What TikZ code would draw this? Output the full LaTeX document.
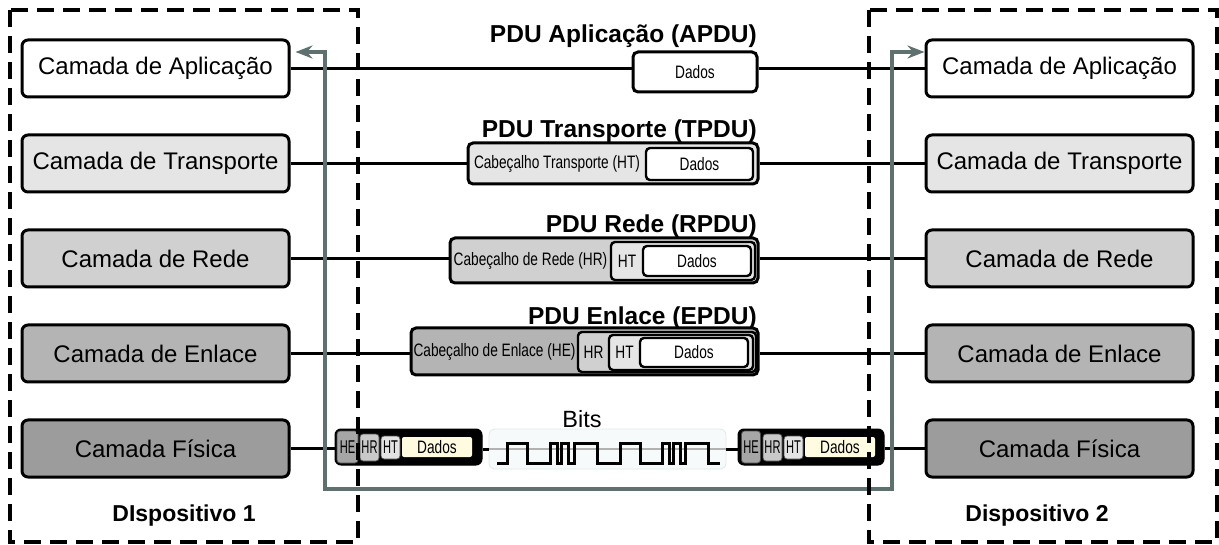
\documentclass[tikz,border=0pt]{standalone}
\usepackage{fontspec}
\setmainfont{Liberation Sans}
\newfontfamily\narrowf[FakeStretch=0.76]{Liberation Sans}
\newfontfamily\condf[FakeStretch=0.6]{Liberation Sans}
\usetikzlibrary{arrows.meta}
\definecolor{gT}{HTML}{E5E5E5}
\definecolor{gR}{HTML}{D0D0D0}
\definecolor{gE}{HTML}{B4B4B4}
\definecolor{gF}{HTML}{9C9C9C}
\definecolor{arr}{HTML}{5E716E}
\definecolor{cream}{HTML}{FFFBE1}
\definecolor{bitsbg}{HTML}{F6FAFA}
\definecolor{bitsbd}{HTML}{E2E8E8}
\begin{document}
\begin{tikzpicture}[x=1pt,y=-1pt,
  layer/.style={draw=black, line width=3pt, rounded corners=6pt, minimum width=267pt, minimum height=57pt, inner sep=0pt, font=\fontsize{24}{28}\selectfont},
  pdubox/.style={draw=black, line width=3pt, rounded corners=5pt, inner sep=0pt},
  inbox/.style={draw=black, line width=2.4pt, rounded corners=4pt, inner sep=0pt},
  small/.style={inner sep=0pt, font=\narrowf\fontsize{18}{20}\selectfont},
  tiny/.style={draw=black!70, line width=0.8pt, rounded corners=3pt, inner sep=0pt, font=\condf\fontsize{18.5}{20}\selectfont},
  pdulbl/.style={anchor=base east, inner sep=0pt, font=\bfseries\fontsize{24.5}{28}\selectfont},
  devlbl/.style={inner sep=0pt, font=\bfseries\fontsize{23}{26}\selectfont},
  rowline/.style={draw=black, line width=3pt},
  garrow/.style={draw=arr, line width=3.2pt, {Stealth[length=17pt,width=13pt]}-{Stealth[length=17pt,width=13pt]}},
  dashbox/.style={draw=black, line width=3.2pt, dash pattern=on 17pt off 9pt}
]
\useasboundingbox (0,0) rectangle (1219,545);

% layer boxes
\node[layer, fill=white] (L1) at (155.5,68.5) {Camada de Aplicação};
\node[layer, fill=gT]    (L2) at (155.5,163.5) {Camada de Transporte};
\node[layer, fill=gR]    (L3) at (155.5,258.5) {Camada de Rede};
\node[layer, fill=gE]    (L4) at (155.5,353.5) {Camada de Enlace};
\node[layer, fill=gF]    (L5) at (155.5,448.5) {Camada Física};
\node[layer, fill=white] (R1) at (1059.5,68.5) {Camada de Aplicação};
\node[layer, fill=gT]    (R2) at (1059.5,163.5) {Camada de Transporte};
\node[layer, fill=gR]    (R3) at (1059.5,258.5) {Camada de Rede};
\node[layer, fill=gE]    (R4) at (1059.5,353.5) {Camada de Enlace};
\node[layer, fill=gF]    (R5) at (1059.5,448.5) {Camada Física};

% PDU aplicacao
\node[pdubox, fill=white, minimum width=124pt, minimum height=40pt, small] (a1) at (695,72) {Dados};
\node[pdulbl] (la) at (757,43) {PDU Aplicação (APDU)};

% PDU transporte
\node[pdubox, fill=gT, minimum width=290pt, minimum height=41pt] (t0) at (613,163.5) {};
\node[inbox, fill=white, minimum width=107pt, minimum height=32pt, small] (t1) at (699.5,164) {Dados};
\node[small] (th) at (557,163.5) {Cabeçalho Transporte (HT)};
\node[pdulbl] (lt) at (757,138) {PDU Transporte (TPDU)};

% PDU rede
\node[pdubox, fill=gR, minimum width=308pt, minimum height=45pt] (r0) at (604,260.5) {};
\node[inbox, fill=gT, minimum width=144pt, minimum height=38pt] (r1) at (683,261) {};
\node[inbox, fill=white, minimum width=108pt, minimum height=30pt, small] (r2) at (697,261) {Dados};
\node[small] (rh) at (530.5,260.5) {Cabeçalho de Rede (HR)};
\node[small] (rt) at (627,261) {HT};
\node[pdulbl] (lr) at (757,233) {PDU Rede (RPDU)};

% PDU enlace
\node[pdubox, fill=gE, minimum width=347pt, minimum height=47pt] (e0) at (584.5,351.5) {};
\node[inbox, fill=gR, minimum width=178pt, minimum height=40pt] (e1) at (667,352) {};
\node[inbox, fill=gT, minimum width=144pt, minimum height=35pt] (e2) at (681,352.5) {};
\node[inbox, fill=white, minimum width=108pt, minimum height=29pt, small] (e3) at (694,352.5) {Dados};
\node[small] (eh) at (494.5,351.5) {Cabeçalho de Enlace (HE)};
\node[small] (er) at (593.5,352) {HR};
\node[small] (et) at (624.5,352) {HT};
\node[pdulbl] (le) at (757,325) {PDU Enlace (EPDU)};

% row connectors
\draw[rowline] (L1.east) -- (L1.east -| a1.west);
\draw[rowline] (a1.east |- L1.east) -- (R1.west);
\draw[rowline] (L2.east) -- (L2.east -| t0.west);
\draw[rowline] (t0.east |- L2.east) -- (R2.west);
\draw[rowline] (L3.east) -- (L3.east -| r0.west);
\draw[rowline] (r0.east |- L3.east) -- (R3.west);
\draw[rowline] (L4.east) -- (L4.east -| e0.west);
\draw[rowline] (e0.east |- L4.east) -- (R4.west);

% physical frames
\node[draw=black, fill=black, line width=1pt, rounded corners=6pt, minimum width=147pt, minimum height=36pt, inner sep=0pt] (pL) at (408.5,447) {};
\node[tiny, fill=black!35, minimum width=21pt, minimum height=32pt] (pLe) at (347.5,447) {HE};
\node[tiny, fill=black!21, minimum width=19pt, minimum height=27pt] (pLr) at (369.5,447.5) {HR};
\node[tiny, fill=black!11, minimum width=19pt, minimum height=23pt] (pLt) at (390.5,447.5) {HT};
\node[small, fill=cream, rounded corners=2pt, minimum width=70pt, minimum height=20pt] (pLd) at (437,447) {Dados};

\node[draw=black, fill=black, line width=1pt, rounded corners=6pt, minimum width=146pt, minimum height=36pt, inner sep=0pt] (pR) at (811,447) {};
\node[tiny, fill=black!35, minimum width=19pt, minimum height=32pt] (pRe) at (751,447) {HE};
\node[tiny, fill=black!21, minimum width=19pt, minimum height=27pt] (pRr) at (772.5,447.5) {HR};
\node[tiny, fill=black!11, minimum width=19pt, minimum height=23pt] (pRt) at (793.5,447.5) {HT};
\node[small, fill=cream, rounded corners=2pt, minimum width=70pt, minimum height=20pt] (pRd) at (840,447) {Dados};

% bits
\node[draw=bitsbd, fill=bitsbg, line width=0.8pt, rounded corners=6pt, minimum width=237pt, minimum height=40pt, inner sep=0pt] (bits) at (607.5,449) {};
\draw[black!30, line width=1.5pt] (bits.west) -- (bits.east);
\node[inner sep=0pt, font=\fontsize{23.5}{26}\selectfont] (bl) at (582,419) {Bits};
\draw[black, line width=3pt, line join=miter]
  (497,463) -- (507,463) -- (507,443) -- (527,443) -- (527,463) -- (550,463) -- (550,443)
  -- (557,443) -- (557,463) -- (561,463) -- (561,443) -- (568,443) -- (568,463) -- (574,463)
  -- (574,443) -- (597,443) -- (597,463) -- (620,463) -- (620,443) -- (640,443) -- (640,463)
  -- (662,463) -- (662,443) -- (669,443) -- (669,463) -- (673,463) -- (673,443) -- (680,443)
  -- (680,463) -- (685,463) -- (685,443) -- (708,443) -- (708,463) -- (720,463);

\draw[rowline] (L5.east) -- (L5.east -| pL.west);
\draw[rowline] (pR.east |- L5.east) -- (R5.west);
\draw[rowline] (pL.east |- bits.west) -- (bits.west);
\draw[rowline] (bits.east) -- (bits.east -| pR.west);

% grey path
\draw[garrow] ([yshift=16.5pt,xshift=5pt]L1.east) -| (325,489) -- (892,489) |- ([yshift=16.5pt]R1.west);

% devices
\draw[dashbox] (10,10) rectangle (358,542);
\draw[dashbox] (869,10) rectangle (1217,542);
\node[devlbl] (d1) at (184,516) {DIspositivo 1};
\node[devlbl] (d2) at (1037,516) {Dispositivo 2};
\end{tikzpicture}
\end{document}
